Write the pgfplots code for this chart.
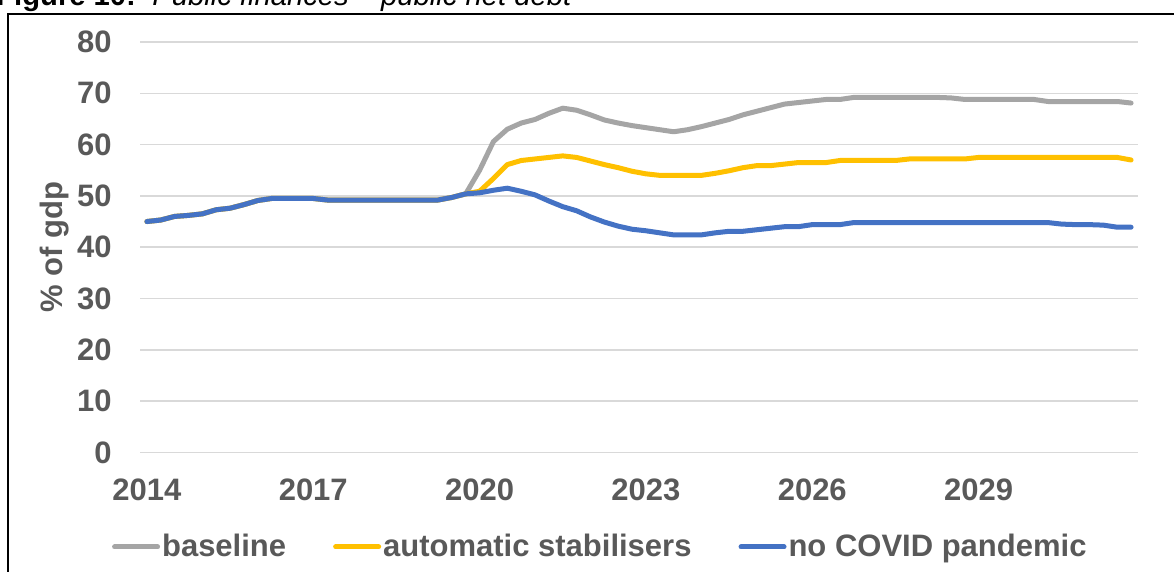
\documentclass[border=0pt]{standalone}
\usepackage{fontspec}
\setmainfont{Liberation Sans}
\usepackage{pgfplots}
\usepackage{pgfplotstable}
\pgfplotsset{compat=1.18}
\definecolor{cgray}{HTML}{A5A5A5}
\definecolor{cyellow}{HTML}{FFC000}
\definecolor{cblue}{HTML}{4472C4}
\definecolor{ctext}{HTML}{595959}
\definecolor{cgrid}{HTML}{D9D9D9}
\pgfplotstableread{
x b a n
2014.00 45.0 45.0 45.0
2014.25 45.3 45.3 45.3
2014.50 46.0 46.0 46.0
2014.75 46.2 46.2 46.2
2015.00 46.5 46.5 46.5
2015.25 47.3 47.3 47.3
2015.50 47.6 47.6 47.6
2015.75 48.3 48.3 48.3
2016.00 49.1 49.1 49.1
2016.25 49.5 49.5 49.5
2016.50 49.5 49.5 49.5
2016.75 49.5 49.5 49.5
2017.00 49.5 49.5 49.5
2017.25 49.2 49.2 49.2
2017.50 49.2 49.2 49.2
2017.75 49.2 49.2 49.2
2018.00 49.2 49.2 49.2
2018.25 49.2 49.2 49.2
2018.50 49.2 49.2 49.2
2018.75 49.2 49.2 49.2
2019.00 49.2 49.2 49.2
2019.25 49.2 49.2 49.2
2019.50 49.7 49.7 49.7
2019.75 50.4 50.4 50.4
2020.00 55.0 50.9 50.6
2020.25 60.6 53.4 51.1
2020.50 63.0 56.1 51.5
2020.75 64.2 56.9 50.9
2021.00 64.9 57.2 50.2
2021.25 66.1 57.5 49.0
2021.50 67.1 57.8 47.9
2021.75 66.7 57.5 47.1
2022.00 65.8 56.8 45.9
2022.25 64.8 56.1 44.9
2022.50 64.2 55.5 44.1
2022.75 63.7 54.8 43.5
2023.00 63.3 54.3 43.2
2023.25 62.9 54.0 42.8
2023.50 62.5 54.0 42.4
2023.75 62.9 54.0 42.4
2024.00 63.5 54.0 42.4
2024.25 64.2 54.4 42.8
2024.50 64.9 54.9 43.1
2024.75 65.8 55.5 43.1
2025.00 66.5 55.9 43.4
2025.25 67.2 55.9 43.7
2025.50 67.9 56.2 44.0
2025.75 68.2 56.5 44.0
2026.00 68.5 56.5 44.4
2026.25 68.8 56.5 44.4
2026.50 68.8 56.9 44.4
2026.75 69.2 56.9 44.8
2027.00 69.2 56.9 44.8
2027.25 69.2 56.9 44.8
2027.50 69.2 56.9 44.8
2027.75 69.2 57.2 44.8
2028.00 69.2 57.2 44.8
2028.25 69.2 57.2 44.8
2028.50 69.1 57.2 44.8
2028.75 68.8 57.2 44.8
2029.00 68.8 57.5 44.8
2029.25 68.8 57.5 44.8
2029.50 68.8 57.5 44.8
2029.75 68.8 57.5 44.8
2030.00 68.8 57.5 44.8
2030.25 68.4 57.5 44.8
2030.50 68.4 57.5 44.5
2030.75 68.4 57.5 44.4
2031.00 68.4 57.5 44.4
2031.25 68.4 57.5 44.3
2031.50 68.4 57.5 43.9
2031.75 68.1 57.0 43.9
}\debt
\begin{document}
\begin{tikzpicture}
\useasboundingbox (0,0) rectangle (587bp,286bp);
\clip (0,0) rectangle (587bp,286bp);
\draw[line width=1bp, black] (4.15bp,279bp) rectangle (600bp,-10bp);
\node[anchor=base west, inner sep=0pt, font=\fontsize{14.6bp}{17bp}\selectfont\bfseries] at (-2bp,283bp) {Figure 10:};
\node[anchor=base west, inner sep=0pt, font=\fontsize{14.6bp}{17bp}\selectfont\itshape] at (76bp,283bp) {Public finances – public net debt};
\begin{axis}[
  at={(70bp,59.8bp)}, anchor=south west,
  width=499bp, height=205.2bp, scale only axis,
  xmin=2013.875, xmax=2031.875, ymin=0, ymax=80,
  xtick={2014,2017,...,2029}, ytick={0,10,...,80},
  axis line style={draw=none}, major tick length=0pt,
  ymajorgrids, grid style={draw=cgrid, line width=0.75bp},
  /pgf/number format/assume math mode=true,
  /pgf/number format/1000 sep={},
  tick label style={font=\fontsize{15.5bp}{18bp}\selectfont\bfseries, text=ctext},
  yticklabel style={anchor=east, inner sep=0pt, xshift=-14bp},
  xticklabel style={anchor=north, inner sep=0pt, yshift=-13bp},
  ylabel={\% of gdp},
  every axis y label/.style={at={(axis description cs:-0.0852,0.5)}, rotate=90, anchor=center, font=\fontsize{15.5bp}{18bp}\selectfont\bfseries, text=ctext},
  legend columns=3,
  legend style={at={(axis description cs:-0.02836,-0.2305)}, anchor=west, draw=none, fill=none, inner sep=0pt,
    font=\fontsize{15.5bp}{18bp}\selectfont\bfseries, text=ctext, nodes={inner sep=0pt},
    /tikz/every odd column/.append style={column sep=1bp},
    /tikz/every even column/.append style={column sep=23.5bp}},
  legend cell align=left,
  legend image code/.code={\draw (1.25bp,0bp) -- (22.75bp,0bp);},
  every axis plot/.append style={line width=2.5bp, line cap=round, line join=round},
  clip=false
]
\addplot[cgray] table[x=x, y=b] {\debt};
\addlegendentry{baseline}
\addplot[cyellow] table[x=x, y=a] {\debt};
\addlegendentry{automatic stabilisers}
\addplot[cblue] table[x=x, y=n] {\debt};
\addlegendentry{no COVID pandemic}
\end{axis}
\end{tikzpicture}
\end{document}
